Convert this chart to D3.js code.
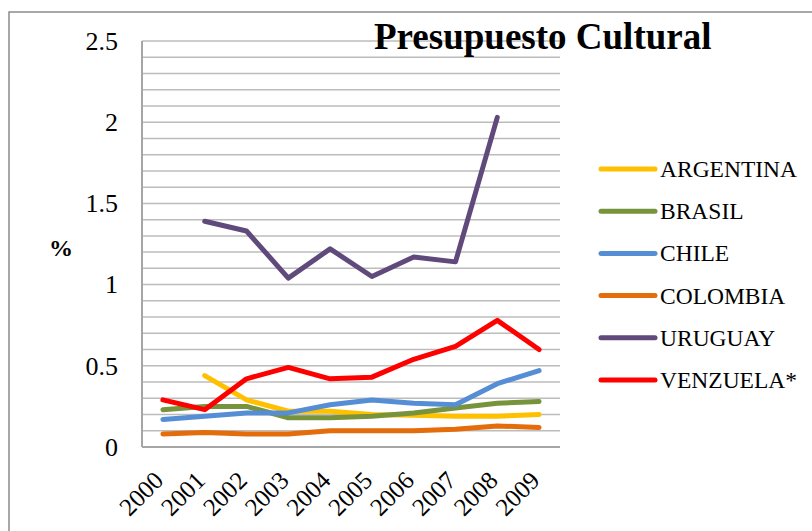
<!DOCTYPE html>
<html>
<head>
<meta charset="utf-8">
<script src="https://cdn.jsdelivr.net/npm/d3@7"></script>
<style>
  body { margin: 0; background: #fff; }
  svg { display: block; }
  svg text { font-family: "Liberation Serif", "Times New Roman", Times, serif; }
</style>
</head>
<body>
<div id="chart"></div>
<script>
// data
const years = ['2000', '2001', '2002', '2003', '2004', '2005', '2006', '2007', '2008', '2009'];
const argentina = [null, 0.44, 0.29, 0.22, 0.22, 0.20, 0.195, 0.19, 0.19, 0.20];
const brasil    = [0.23, 0.25, 0.25, 0.18, 0.18, 0.19, 0.21, 0.24, 0.27, 0.28];
const chile     = [0.17, 0.19, 0.21, 0.21, 0.26, 0.29, 0.27, 0.26, 0.39, 0.47];
const colombia  = [0.08, 0.09, 0.08, 0.08, 0.10, 0.10, 0.10, 0.11, 0.13, 0.12];
const uruguay   = [null, 1.39, 1.33, 1.04, 1.22, 1.05, 1.17, 1.14, 2.03, null];
const venezuela = [0.29, 0.23, 0.42, 0.49, 0.42, 0.43, 0.54, 0.62, 0.78, 0.60];
const yTicks = [0, 0.5, 1, 1.5, 2, 2.5];

const series = [
  { name: 'ARGENTINA',  values: argentina, color: '#FFC000' },
  { name: 'BRASIL',     values: brasil,    color: '#77933C' },
  { name: 'CHILE',      values: chile,     color: '#558ED5' },
  { name: 'COLOMBIA',   values: colombia,  color: '#E46C0A' },
  { name: 'URUGUAY',    values: uruguay,   color: '#604A7B' },
  { name: 'VENZUELA*',  values: venezuela, color: '#FF0000' }
];

const width = 812, height = 531;
const plot = { left: 142, right: 560, top: 41, bottom: 447 };
const serif = '"Liberation Serif", "Times New Roman", Times, serif';

const svg = d3.select('#chart')
    .append('svg')
    .attr('width', width)
    .attr('height', height);

// outer frame (left + top only visible)
svg.append('path')
    .attr('d', `M9,${height} L9,12 L${width},12`)
    .attr('fill', 'none')
    .attr('stroke', '#8c8c8c')
    .attr('stroke-width', 1.5);

const x = d3.scalePoint()
    .domain(years)
    .range([plot.left, plot.right])
    .padding(0.5);

const y = d3.scaleLinear()
    .domain([0, 2.5])
    .range([plot.bottom, plot.top]);

// minor gridlines every 0.1
const gridVals = d3.range(1, 26).map(d => d / 10);
svg.append('g')
    .selectAll('line')
    .data(gridVals)
    .enter()
    .append('line')
    .attr('x1', plot.left)
    .attr('x2', plot.right)
    .attr('y1', d => y(d))
    .attr('y2', d => y(d))
    .attr('stroke', '#bcbcbc')
    .attr('stroke-width', 1.5);

// axes lines
svg.append('line')
    .attr('x1', plot.left).attr('x2', plot.left)
    .attr('y1', plot.top).attr('y2', plot.bottom)
    .attr('stroke', '#a6a6a6').attr('stroke-width', 2);
svg.append('line')
    .attr('x1', plot.left).attr('x2', plot.right)
    .attr('y1', plot.bottom).attr('y2', plot.bottom)
    .attr('stroke', '#a6a6a6').attr('stroke-width', 2);

// y tick labels
svg.append('g')
    .selectAll('text')
    .data(yTicks)
    .enter()
    .append('text')
    .attr('x', 118)
    .attr('y', d => y(d))
    .attr('dy', '0.34em')
    .attr('text-anchor', 'end')
    .attr('font-family', serif)
    .attr('font-size', '26px')
    .attr('fill', '#000')
    .text(d => d);

// y axis title
svg.append('text')
    .attr('x', 61)
    .attr('y', 248)
    .attr('dy', '0.34em')
    .attr('text-anchor', 'middle')
    .attr('font-family', serif)
    .attr('font-size', '24px')
    .attr('font-weight', 'bold')
    .text('%');

// x tick labels, rotated
svg.append('g')
    .selectAll('text')
    .data(years)
    .enter()
    .append('text')
    .attr('transform', d => `translate(${x(d) + 2},${plot.bottom + 35}) rotate(-45)`)
    .attr('text-anchor', 'end')
    .attr('font-family', serif)
    .attr('font-size', '25px')
    .attr('fill', '#000')
    .text(d => d);

// lines
const line = d3.line()
    .defined(d => d[1] != null)
    .x(d => x(d[0]))
    .y(d => y(d[1]));

svg.append('g')
    .selectAll('path')
    .data(series)
    .enter()
    .append('path')
    .attr('d', s => line(years.map((yr, i) => [yr, s.values[i]])))
    .attr('fill', 'none')
    .attr('stroke', s => s.color)
    .attr('stroke-width', 5)
    .attr('stroke-linejoin', 'round')
    .attr('stroke-linecap', 'round');

// title
svg.append('text')
    .attr('x', 374)
    .attr('y', 49)
    .attr('font-family', serif)
    .attr('font-size', '37px')
    .attr('font-weight', 'bold')
    .attr('fill', '#000')
    .text('Presupuesto Cultural');

// legend
const legend = svg.append('g')
    .selectAll('g')
    .data(series)
    .enter()
    .append('g')
    .attr('transform', (d, i) => `translate(600,${169 + i * 42.2})`);

legend.append('line')
    .attr('x1', 1).attr('x2', 55)
    .attr('y1', 0).attr('y2', 0)
    .attr('stroke', d => d.color)
    .attr('stroke-width', 5)
    .attr('stroke-linecap', 'round');

legend.append('text')
    .attr('x', 60)
    .attr('y', 0)
    .attr('dy', '0.34em')
    .attr('font-family', serif)
    .attr('font-size', '23.5px')
    .attr('fill', '#000')
    .text(d => d.name);
</script>
</body>
</html>
